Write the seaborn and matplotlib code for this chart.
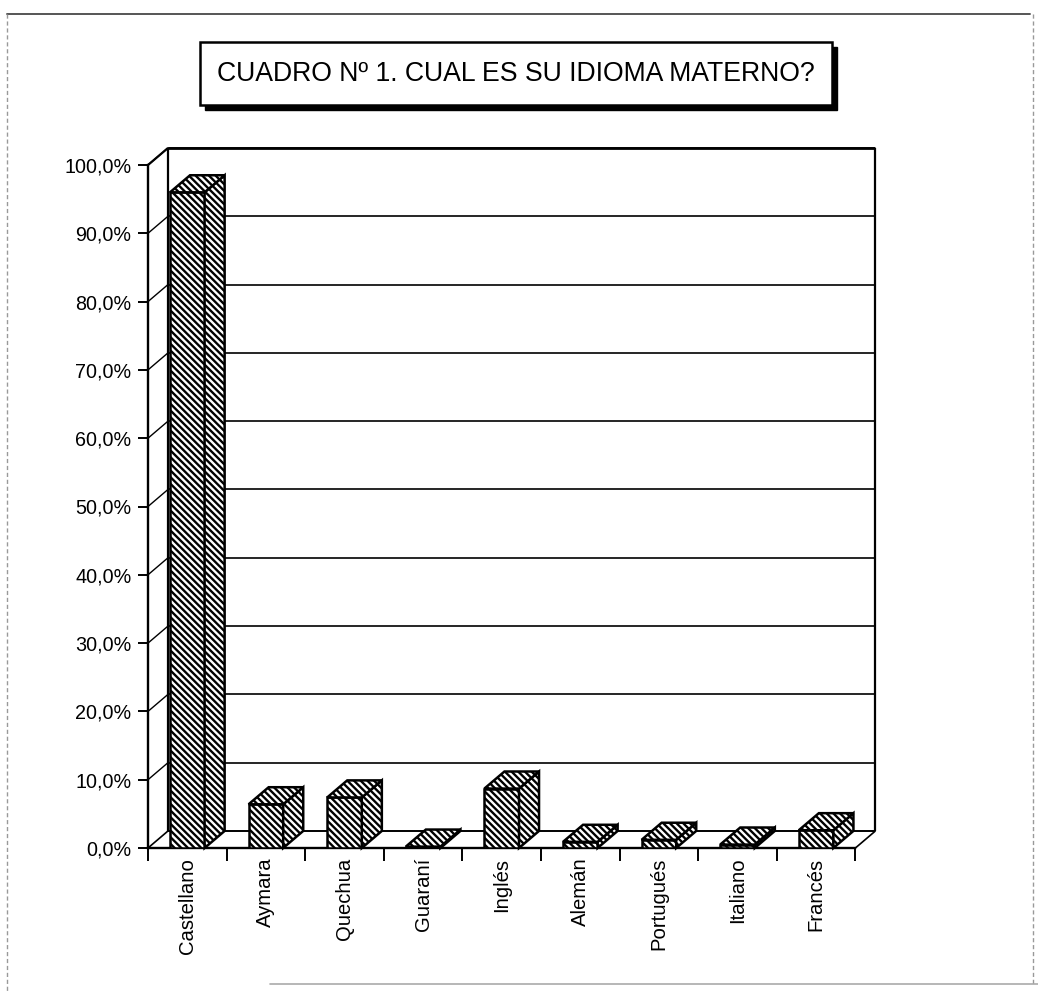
import numpy as np
import pandas as pd
import matplotlib
matplotlib.use("Agg")
import matplotlib.pyplot as plt
import seaborn as sns
from matplotlib.patches import Polygon, Rectangle
from matplotlib.lines import Line2D

# ---- data -------------------------------------------------------------
idiomas = ["Castellano", "Aymara", "Quechua", "Guaraní", "Inglés",
           "Alemán", "Portugués", "Italiano", "Francés"]
porcentajes = [96.0, 6.4, 7.4, 0.2, 8.7, 0.9, 1.2, 0.5, 2.6]
ticks_y = [0, 10, 20, 30, 40, 50, 60, 70, 80, 90, 100]
etiquetas_y = [f"{v:.1f}%".replace(".", ",") for v in ticks_y]
titulo = "CUADRO Nº 1. CUAL ES SU IDIOMA MATERNO?"

# ---- style ------------------------------------------------------------
W, H = 1038, 991
DPI = 100

sns.set_theme(style="white")
plt.rcParams["font.family"] = ["Liberation Sans", "DejaVu Sans"]
plt.rcParams["hatch.linewidth"] = 1.7
plt.rcParams["hatch.color"] = "black"

fig = plt.figure(figsize=(W / DPI, H / DPI), dpi=DPI)
fig.patch.set_facecolor("white")

# oblique depth of the 3-D look (category units, percent units)
dx, dy = 0.255, 2.5
n = len(idiomas)
x0, x1 = -0.5, n - 0.5
px_cat, px_pct = 78.6, 6.83
left_px, base_px = 148, 848
ax_w = (x1 + dx - x0) * px_cat
ax_h = (100 + dy) * px_pct
ax = fig.add_axes([left_px / W, (H - base_px) / H, ax_w / W, ax_h / H])
ax.patch.set_alpha(0)

HATCH = "\\" * 5
LW_BAR = 1.8

df = pd.DataFrame({"idioma": idiomas, "pct": porcentajes})
sns.barplot(data=df, x="idioma", y="pct", ax=ax, color="white",
            saturation=1, edgecolor="black", linewidth=LW_BAR, width=0.44,
            hatch=HATCH, zorder=4)

# top and side faces of every column
for p in list(ax.patches):
    x, w, h = p.get_x(), p.get_width(), p.get_height()
    top = Polygon([(x, h), (x + dx, h + dy), (x + w + dx, h + dy), (x + w, h)],
                  closed=True, facecolor="white", edgecolor="black",
                  linewidth=LW_BAR, hatch=HATCH, zorder=4, clip_on=False)
    side = Polygon([(x + w, 0), (x + w, h), (x + w + dx, h + dy), (x + w + dx, dy)],
                   closed=True, facecolor="white", edgecolor="black",
                   linewidth=LW_BAR, hatch=HATCH, zorder=4, clip_on=False)
    ax.add_patch(side)
    ax.add_patch(top)

# walls and floor
def seg(xs, ys, lw=1.4, z=2):
    ax.add_line(Line2D(xs, ys, color="black", linewidth=lw, zorder=z,
                       clip_on=False, solid_capstyle="butt"))

for v in ticks_y[1:]:
    seg([x0 + dx, x1 + dx], [v + dy, v + dy], lw=1.2)      # back wall grid
    seg([x0, x0 + dx], [v, v + dy], lw=1.0)                # side wall grid
seg([x0 + dx, x1 + dx], [100 + dy, 100 + dy], lw=2.0)      # back wall top
seg([x0, x0 + dx], [100, 100 + dy], lw=1.6)                # side wall top
seg([x0 + dx, x0 + dx], [dy, 100 + dy], lw=1.6)            # back-left edge
seg([x1 + dx, x1 + dx], [dy, 100 + dy], lw=1.6)            # back-right edge
seg([x0 + dx, x1 + dx], [dy, dy], lw=1.4)                  # floor back
seg([x0, x0 + dx], [0, dy], lw=1.2)                        # floor left
seg([x1, x1 + dx], [0, dy], lw=1.2)                        # floor right

# axes
ax.set_xlim(x0, x1 + dx)
ax.set_ylim(0, 100 + dy)
ax.set_xlabel("")
ax.set_ylabel("")
for s in ("top", "right"):
    ax.spines[s].set_visible(False)
for s in ("left", "bottom"):
    ax.spines[s].set_color("black")
    ax.spines[s].set_linewidth(1.7)
ax.spines["left"].set_bounds(0, 100)
ax.spines["bottom"].set_bounds(x0, x1)

ax.set_yticks(ticks_y)
ax.set_yticklabels(etiquetas_y, fontsize=14.2, color="black")
ax.tick_params(axis="y", direction="out", length=7, width=1.4,
               color="black", pad=5, left=True)

ax.set_xticks(np.arange(n + 1) - 0.5)
ax.set_xticklabels([])
ax.set_xticks(np.arange(n), minor=True)
ax.set_xticklabels(idiomas, minor=True, rotation=90, fontsize=14.6,
                   color="black", va="top", ha="center")
ax.tick_params(axis="x", which="major", direction="out", length=9,
               width=1.4, color="black", bottom=True)
ax.tick_params(axis="x", which="minor", length=0, pad=7, bottom=True)
ax.grid(False)

# title box with drop shadow
def fig_rect(l, t, r, b, **kw):
    fig.add_artist(Rectangle((l / W, 1 - b / H), (r - l) / W, (b - t) / H,
                             transform=fig.transFigure, **kw))

fig_rect(205, 47, 837, 110, facecolor="black", edgecolor="black", zorder=5)
fig_rect(200, 42, 832, 105, facecolor="white", edgecolor="black",
         linewidth=1.8, zorder=6)
fig.text(516 / W, 1 - 74 / H, titulo, ha="center", va="center",
         fontsize=19.2, color="black", zorder=7)

# page frame
fig.add_artist(Line2D([7 / W, 1030 / W], [1 - 14 / H, 1 - 14 / H],
                      transform=fig.transFigure, color="#555555",
                      linewidth=1.4))
fig.add_artist(Line2D([7 / W, 7 / W], [1 - 14 / H, 0],
                      transform=fig.transFigure, color="#999999",
                      linewidth=1.0, linestyle=(0, (3, 2))))
fig.add_artist(Line2D([1033 / W, 1033 / W], [1 - 14 / H, 1 - 985 / H],
                      transform=fig.transFigure, color="#999999",
                      linewidth=1.0, linestyle=(0, (3, 2))))
fig.add_artist(Line2D([270 / W, 1038 / W], [1 - 984 / H, 1 - 984 / H],
                      transform=fig.transFigure, color="#aaaaaa",
                      linewidth=1.2))

fig.savefig("out.png", dpi=DPI)
